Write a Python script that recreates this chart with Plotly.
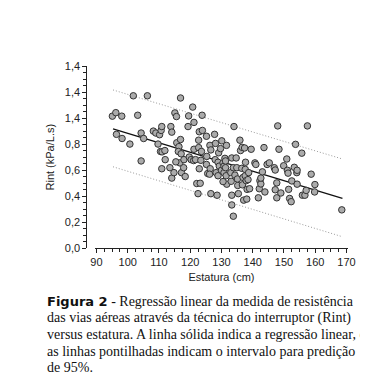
import plotly.graph_objects as go

# Data
estatura = [95.1, 96.2, 98.1, 96.4, 98.2, 100.7, 101.8, 103.2, 104.3, 105.1, 104.3, 106.3,
            108.2, 109.0, 110.2, 110.7, 110.9, 109.7, 110.5, 111.0, 111.9, 112.0, 110.9,
            113.8, 114.1, 113.5, 114.1, 114.8, 115.1, 115.6, 116.9, 115.7, 116.4, 116.2,
            116.9, 117.1, 116.7, 117.2, 117.9, 118.4, 118.0, 119.3, 119.5, 119.7, 120.3,
            121.1, 120.8, 121.2, 121.7, 121.2, 122.1, 122.5, 122.7, 122.9, 123.9, 123.8,
            122.7, 123.6, 123.4, 122.9, 123.2, 125.2, 125.3, 125.2, 125.6, 126.3, 126.6,
            126.4, 126.2, 126.6, 127.8, 128.1, 128.0, 128.3, 128.6, 128.9, 128.9, 129.1,
            129.3, 129.7, 130.1, 130.0, 130.5, 130.8, 130.8, 131.1, 131.3, 131.5, 131.6,
            131.7, 131.3, 130.5, 133.3, 133.0, 133.1, 133.3, 133.3, 133.8, 134.0, 133.8,
            134.3, 134.7, 134.9, 135.2, 135.4, 135.1, 135.9, 136.1, 136.6, 136.5, 136.9,
            136.7, 137.1, 137.4, 137.7, 137.6, 137.6, 137.9, 138.2, 138.1, 138.5, 138.7,
            139.5, 139.0, 140.7, 141.0, 141.8, 142.1, 142.3, 142.6, 143.1, 143.6, 143.9,
            144.6, 145.3, 146.9, 147.2, 147.2, 147.7, 147.7, 148.0, 148.4, 149.0, 149.9,
            150.9, 151.1, 151.3, 151.5, 151.8, 152.3, 152.5, 153.3, 153.7, 154.1, 154.2,
            155.7, 155.9, 156.7, 157.1, 157.5, 158.7, 159.9, 159.8, 168.5, 154.2, 142.6,
            115.4]
rint = [1.016, 1.043, 1.016, 0.876, 0.844, 0.801, 1.173, 1.023, 0.886, 0.844, 0.671, 1.173,
        0.901, 0.886, 0.873, 0.906, 0.936, 0.801, 0.744, 0.741, 0.751, 0.681, 0.611,
        0.936, 0.893, 0.619, 0.539, 0.581, 1.041, 1.013, 1.156, 0.811, 0.781, 0.744,
        0.836, 0.726, 0.656, 0.581, 0.619, 0.551, 0.681, 0.936, 1.018, 0.701, 0.681,
        0.674, 1.086, 0.968, 0.681, 0.761, 0.497, 0.419, 0.831, 0.896, 0.906, 1.023,
        0.774, 0.744, 0.676, 0.611, 0.499, 0.861, 0.706, 0.644, 0.574, 0.791, 0.756,
        0.611, 0.569, 0.419, 0.876, 0.806, 0.681, 0.581, 0.407, 0.557, 0.661, 0.734,
        0.631, 0.766, 0.826, 0.599, 0.656, 0.631, 0.581, 0.691, 0.619, 0.557, 0.791,
        0.492, 0.671, 0.512, 0.694, 0.581, 0.514, 0.407, 0.332, 0.245, 0.936, 0.619,
        0.562, 0.694, 0.619, 0.482, 0.419, 0.532, 0.831, 0.751, 0.776, 0.614, 0.544,
        0.487, 0.369, 0.771, 0.661, 0.606, 0.557, 0.519, 0.452, 0.377, 0.527, 0.581,
        0.761, 0.457, 0.656, 0.644, 0.387, 0.457, 0.519, 0.494, 0.587, 0.774, 0.432,
        0.644, 0.656, 0.619, 0.601, 0.449, 0.502, 0.387, 0.941, 0.761, 0.424, 0.634,
        0.686, 0.599, 0.577, 0.452, 0.382, 0.357, 0.517, 0.622, 0.799, 0.581, 0.492,
        0.731, 0.407, 0.407, 0.444, 0.941, 0.569, 0.489, 0.432, 0.294, 0.599, 0.539,
        0.664]

reg_x = [95.3, 168.7]
reg_y = [0.918, 0.382]
upper_y = [1.218, 0.686]
lower_y = [0.626, 0.087]

x_ticks = [90, 100, 110, 120, 130, 140, 150, 160, 170]
y_tickvals = [0.0, 0.2, 0.4, 0.6, 0.8, 1.0, 1.2, 1.4]
y_ticktext = ["0,0", "0,2", "0,4", "0,6", "0,8", "1,4", "1,4", "1,4"]

caption_lines = [
    "<span style=\"font-family:'DejaVu Sans';font-weight:bold;font-size:13px\">Figura 2</span> - Regressão linear da medida de resistência",
    "das vias aéreas através da técnica do interruptor (Rint)",
    "versus estatura. A linha sólida indica a regressão linear, e",
    "as linhas pontilhadas indicam o intervalo para predição",
    "de 95%.",
]

W, H = 368, 388
fig = go.Figure()

fig.add_trace(go.Scatter(x=reg_x, y=upper_y, mode="lines",
                         line=dict(color="#9a9a9a", width=1, dash="1px,2px"), showlegend=False))
fig.add_trace(go.Scatter(x=reg_x, y=lower_y, mode="lines",
                         line=dict(color="#9a9a9a", width=1, dash="1px,2px"), showlegend=False))
fig.add_trace(go.Scatter(x=reg_x, y=reg_y, mode="lines",
                         line=dict(color="#111111", width=1.3), showlegend=False))
fig.add_trace(go.Scatter(x=estatura, y=rint, mode="markers",
                         marker=dict(size=6.5, color="#ababab",
                                     line=dict(color="#333333", width=1)),
                         showlegend=False))

axis_font = dict(family="Liberation Sans", size=11, color="#222222")

fig.update_layout(
    width=W, height=H,
    margin=dict(l=0, r=0, t=0, b=0),
    paper_bgcolor="white", plot_bgcolor="white",
    xaxis=dict(domain=[85.2 / W, 347.0 / W], range=[89.6, 170.4],
               tickvals=x_ticks, ticks="outside", ticklen=4, tickcolor="#222",
               showline=True, linecolor="#222", linewidth=1, showgrid=False,
               zeroline=False, tickfont=axis_font,
               minor=dict(dtick=2.5, tick0=90, ticks="outside", ticklen=3, tickcolor="#222"),
               title=dict(text="Estatura (cm)", font=axis_font, standoff=6)),
    yaxis=dict(domain=[1 - 241.5 / H, 1 - 54 / H], range=[0, 1.4],
               anchor="free", position=76 / W,
               tickvals=y_tickvals, ticktext=y_ticktext, ticks="outside", ticklen=4,
               tickcolor="#222", showline=True, linecolor="#222", linewidth=1,
               showgrid=False, zeroline=False, tickfont=axis_font,
               minor=dict(dtick=0.05, tick0=0, ticks="outside", ticklen=3, tickcolor="#222"),
               title=dict(text="Rint (kPa/L.s)", font=axis_font, standoff=6)),
)

for i, line in enumerate(caption_lines):
    fig.add_annotation(text=line, xref="paper", yref="paper",
                       x=33 / W, y=1 - (297 + 17 * i) / H,
                       xanchor="left", yanchor="middle", showarrow=False,
                       font=dict(family="Liberation Serif", size=14, color="#111"))

fig.write_html("out.html")
